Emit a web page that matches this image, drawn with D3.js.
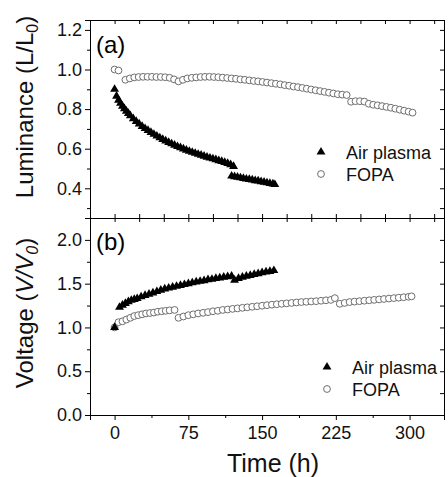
<!DOCTYPE html>
<html>
<head>
<meta charset="utf-8">
<script src="https://cdn.jsdelivr.net/npm/d3@7"></script>
<style>
  body { margin: 0; background: #fff; }
  svg { display: block; font-family: "Liberation Sans", Arial, sans-serif; }
</style>
</head>
<body>
<svg width="448" height="477"></svg>
<script>
// ---- data ----
// (a) luminance, air plasma (two runs)
const lumAirTime = [0, 2, 4, 6, 8, 10, 12, 14, 16, 19, 22, 25, 28, 31, 34, 37, 40, 43, 46, 49, 52, 55, 58, 61, 64, 67, 70, 73, 76, 79, 82, 85, 88, 91, 94, 97, 100, 103, 106, 109, 112, 115, 118, 121,
  119, 122, 125, 128, 131, 134, 137, 140, 143, 146, 149, 152, 155, 158, 161, 163];
const lumAirValue = [0.900, 0.865, 0.845, 0.830, 0.815, 0.802, 0.790, 0.778, 0.767, 0.752, 0.738, 0.725, 0.713, 0.702, 0.692, 0.682, 0.673, 0.664, 0.655, 0.647, 0.639, 0.632, 0.625, 0.618, 0.611, 0.605, 0.599, 0.593, 0.587, 0.582, 0.577, 0.572, 0.567, 0.562, 0.557, 0.553, 0.549, 0.545, 0.540, 0.536, 0.531, 0.526, 0.519, 0.511,
  0.462, 0.459, 0.456, 0.453, 0.450, 0.447, 0.445, 0.442, 0.439, 0.437, 0.434, 0.431, 0.428, 0.425, 0.422, 0.419];

// (a) luminance, FOPA
const lumFopaTime = [0, 4, 11, 15.5, 20, 24.5, 29, 33.5, 38, 42.5, 47, 51.5, 56, 60.5, 65, 69.5, 74, 78.5, 83, 87.5, 92, 96.5, 101, 105.5, 110, 114.5, 119, 123.5, 128, 132.5, 137, 141.5, 146, 150.5, 155, 159.5, 164, 168.5, 173, 177.5, 182, 186.5, 191, 195.5, 200, 204.5, 209, 213.5, 218, 222.5, 227, 231.5, 236, 240.5, 245, 249.5, 254, 258.5, 263, 267.5, 272, 276.5, 281, 285.5, 290, 294.5, 299, 303];
const lumFopaValue = [1.000, 0.995, 0.948, 0.955, 0.960, 0.962, 0.963, 0.963, 0.963, 0.962, 0.962, 0.961, 0.958, 0.950, 0.940, 0.948, 0.955, 0.958, 0.960, 0.962, 0.963, 0.963, 0.962, 0.961, 0.959, 0.957, 0.955, 0.953, 0.950, 0.948, 0.945, 0.942, 0.940, 0.937, 0.934, 0.931, 0.928, 0.925, 0.921, 0.918, 0.914, 0.911, 0.907, 0.903, 0.899, 0.895, 0.891, 0.887, 0.883, 0.879, 0.875, 0.873, 0.871, 0.837, 0.840, 0.840, 0.838, 0.827, 0.822, 0.819, 0.815, 0.811, 0.807, 0.802, 0.797, 0.792, 0.787, 0.782];

// (b) voltage, air plasma
const voltAirTime = [0, 5, 8, 11, 14, 17, 20, 23, 27, 31, 35, 39, 43, 47, 51, 55, 59, 63, 67, 71, 75, 79, 83, 87, 91, 95, 99, 103, 107, 111, 115, 119,
  122, 126, 130, 134, 138, 142, 146, 150, 154, 158, 162];
const voltAirValue = [1.00, 1.23, 1.255, 1.275, 1.295, 1.31, 1.32, 1.33, 1.35, 1.365, 1.38, 1.395, 1.41, 1.425, 1.44, 1.45, 1.46, 1.47, 1.48, 1.49, 1.50, 1.51, 1.52, 1.527, 1.535, 1.545, 1.55, 1.56, 1.565, 1.575, 1.58, 1.585,
  1.54, 1.56, 1.575, 1.585, 1.595, 1.605, 1.615, 1.625, 1.635, 1.64, 1.65];

// (b) voltage, FOPA
const voltFopaTime = [0, 4, 8, 12, 16, 20, 24, 28, 32, 36, 40, 44, 48, 52, 56, 61,
  65, 70, 75, 80, 85, 90, 95, 100, 105, 110, 115, 120, 125, 130, 135, 140, 145, 150, 155, 160, 165, 170, 175, 180, 185, 190, 195, 200, 205, 210, 215, 220, 224,
  229, 234, 239, 244, 249, 254, 259, 264, 269, 274, 279, 284, 289, 294, 299, 302];
const voltFopaValue = [1.00, 1.06, 1.07, 1.09, 1.11, 1.13, 1.14, 1.15, 1.16, 1.165, 1.17, 1.18, 1.185, 1.19, 1.195, 1.20,
  1.11, 1.125, 1.14, 1.15, 1.16, 1.167, 1.175, 1.185, 1.19, 1.20, 1.205, 1.212, 1.218, 1.224, 1.23, 1.236, 1.242, 1.248, 1.254, 1.26, 1.265, 1.27, 1.275, 1.28, 1.285, 1.29, 1.293, 1.297, 1.30, 1.305, 1.31, 1.315, 1.335,
  1.27, 1.28, 1.29, 1.295, 1.30, 1.305, 1.31, 1.315, 1.32, 1.325, 1.33, 1.335, 1.34, 1.345, 1.35, 1.355];

const timeTicks = [0, 75, 150, 225, 300];
const timeMinor = [37.5, 112.5, 187.5, 262.5];
const frameTicks = d3.range(0, 326, 25);
const lumTicks = [0.4, 0.6, 0.8, 1.0, 1.2];
const lumMinor = [0.3, 0.5, 0.7, 0.9, 1.1];
const voltTicks = [0.0, 0.5, 1.0, 1.5, 2.0];
const voltMinor = [0.25, 0.75, 1.25, 1.75];
const seriesNames = ["Air plasma", "FOPA"];

// ---- layout ----
const padL = 90, padR = 444, padT = 20, padMid = 218, padB = 415;
const svg = d3.select("svg");

const x = d3.scaleLinear().domain([-25, 335]).range([padL, padR]);
const yA = d3.scaleLinear().domain([0.25, 1.25]).range([padMid, padT]);
const yB = d3.scaleLinear().domain([0, 2.25]).range([padB, padMid]);

const tri = d3.symbol().type(d3.symbolTriangle).size(34);

function zip(t, v) { return t.map((d, i) => [d, v[i]]); }

// frame + ticks for one panel
function drawFrame(y, y0, y1, major, minor, fmt, rightTicks, showX) {
  // left axis
  const gl = svg.append("g").attr("transform", `translate(${padL},0)`);
  gl.call(d3.axisLeft(y).tickValues(major).tickSize(5).tickPadding(3).tickFormat(fmt));
  gl.append("g").call(d3.axisLeft(y).tickValues(minor).tickSize(3).tickFormat(""));
  // right axis, ticks inward
  svg.append("g").attr("transform", `translate(${padR},0)`)
    .call(d3.axisRight(y).tickValues(rightTicks).tickSize(-4).tickFormat(""));
  // top edge, ticks inward
  svg.append("g").attr("transform", `translate(0,${y1})`)
    .call(d3.axisTop(x).tickValues(frameTicks).tickSize(-4).tickFormat(""));
  if (!showX) {
    svg.append("g").attr("transform", `translate(0,${y0})`)
      .call(d3.axisBottom(x).tickValues(frameTicks).tickSize(-4).tickFormat(""));
  } else {
    const gb = svg.append("g").attr("transform", `translate(0,${y0})`);
    gb.call(d3.axisBottom(x).tickValues(timeTicks).tickSize(5).tickPadding(6).tickFormat(d3.format("d")));
    gb.append("g").call(d3.axisBottom(x).tickValues(timeMinor).tickSize(3).tickFormat(""));
  }
}

drawFrame(yA, padMid, padT, lumTicks, lumMinor, d3.format(".1f"), d3.range(0.3, 1.21, 0.1), false);
drawFrame(yB, padB, padMid, voltTicks, voltMinor, d3.format(".1f"), d3.range(0.25, 2.01, 0.25), true);

svg.selectAll(".domain").attr("stroke", "#000").attr("stroke-width", 1);
svg.selectAll(".tick line").attr("stroke", "#000");
svg.selectAll(".tick text").attr("font-size", 18).attr("fill", "#111")
  .attr("font-family", "Liberation Sans, Arial, sans-serif");

// ---- marks ----
function circles(data, y) {
  svg.append("g").selectAll("circle").data(data).join("circle")
    .attr("cx", d => x(d[0])).attr("cy", d => y(d[1])).attr("r", 3.4)
    .attr("fill", "#fff").attr("stroke", "#6e6e6e").attr("stroke-width", 1);
}
function triangles(data, y) {
  svg.append("g").selectAll("path").data(data).join("path")
    .attr("d", tri).attr("fill", "#000")
    .attr("transform", d => `translate(${x(d[0])},${y(d[1])})`);
}

circles(zip(lumFopaTime, lumFopaValue), yA);
triangles(zip(lumAirTime, lumAirValue), yA);
circles(zip(voltFopaTime, voltFopaValue), yB);
triangles(zip(voltAirTime, voltAirValue), yB);

// ---- legends ----
function legend(lx, ly) {
  svg.append("path").attr("d", tri).attr("fill", "#000")
    .attr("transform", `translate(${lx},${ly})`);
  svg.append("circle").attr("cx", lx).attr("cy", ly + 22).attr("r", 3.4)
    .attr("fill", "#fff").attr("stroke", "#6e6e6e");
  seriesNames.forEach((n, i) => {
    svg.append("text").attr("x", lx + 25).attr("y", ly + 6.5 + i * 22)
      .attr("font-size", 18).attr("fill", "#111").text(n);
  });
}
legend(321, 152);
legend(327, 367);

// ---- panel labels and titles ----
svg.append("text").attr("x", 96).attr("y", 53).attr("font-size", 24).text("(a)");
svg.append("text").attr("x", 96).attr("y", 250).attr("font-size", 24).text("(b)");

svg.append("text").attr("x", 273).attr("y", 472).attr("text-anchor", "middle")
  .attr("font-size", 25).attr("fill", "#111").text("Time (h)");

const lumLabel = svg.append("text").attr("transform", "translate(33,107) rotate(-90)")
  .attr("text-anchor", "middle").attr("font-size", 24).attr("fill", "#111");
lumLabel.append("tspan").text("Luminance (L/L");
lumLabel.append("tspan").attr("font-size", 16).attr("dy", 5).text("0");
lumLabel.append("tspan").attr("dy", -5).text(")");

const voltLabel = svg.append("text").attr("transform", "translate(33,313) rotate(-90)")
  .attr("text-anchor", "middle").attr("font-size", 24).attr("fill", "#111");
voltLabel.append("tspan").text("Voltage (");
voltLabel.append("tspan").attr("font-style", "italic").text("V/V");
voltLabel.append("tspan").attr("font-style", "italic").attr("font-size", 16).attr("dy", 5).text("0");
voltLabel.append("tspan").attr("dy", -5).text(")");
</script>
</body>
</html>
